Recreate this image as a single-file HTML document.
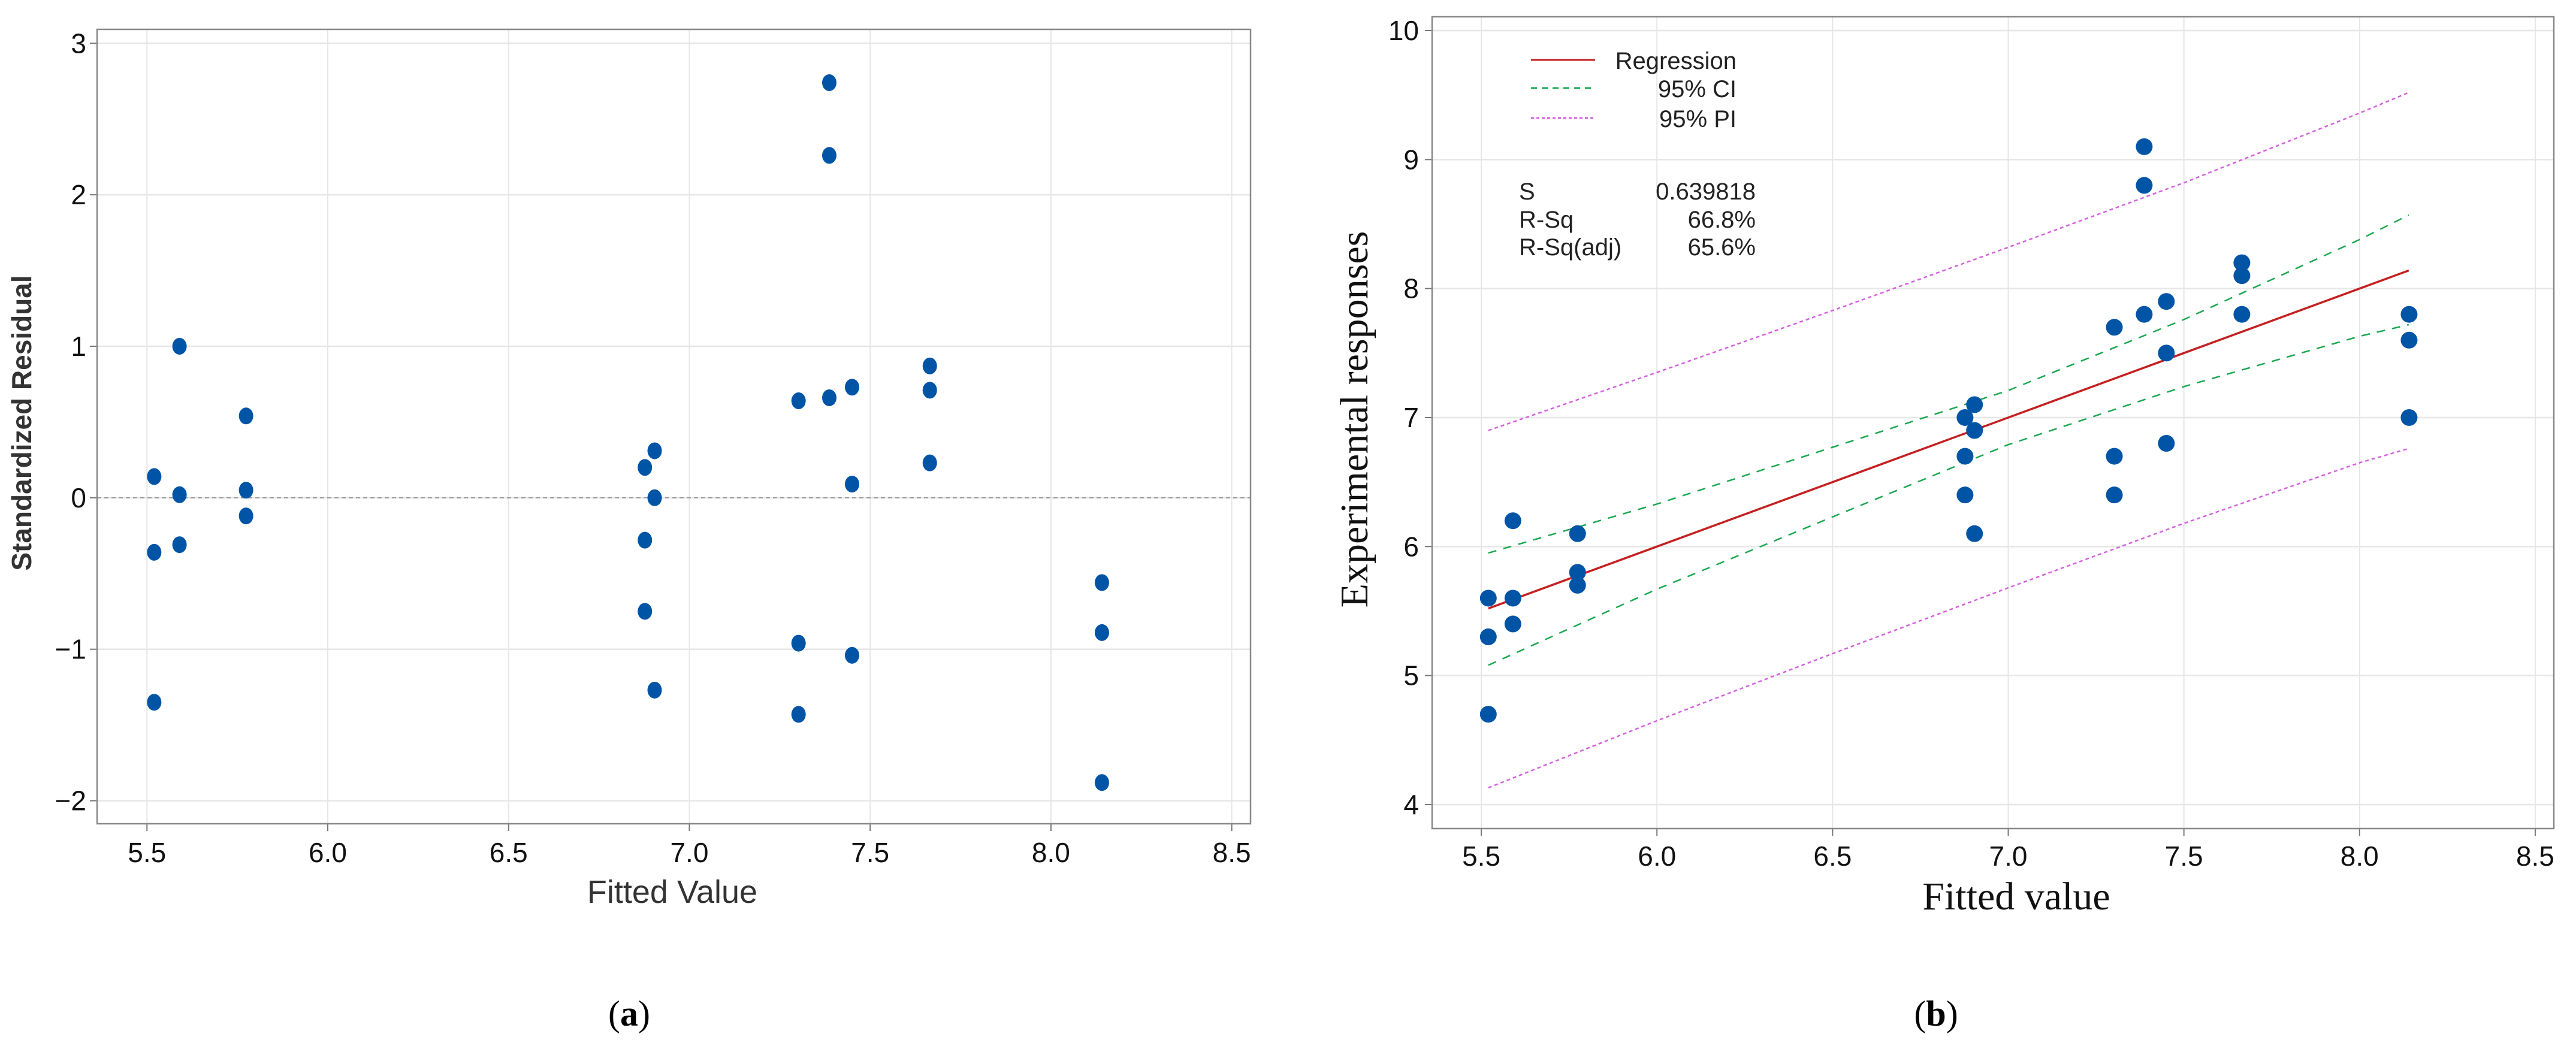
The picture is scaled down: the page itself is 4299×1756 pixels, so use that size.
<!DOCTYPE html>
<html><head><meta charset="utf-8"><style>
html,body{margin:0;padding:0;background:#fff;width:4299px;height:1756px;overflow:hidden}
svg{display:block}
</style></head><body>
<svg id="chart" width="4299" height="1756" viewBox="0 0 4299 1756" xmlns="http://www.w3.org/2000/svg"></svg>
<script>
// ---------- shared data ----------
const fittedX = [5.52, 5.59, 5.774, 6.877, 6.904, 7.302, 7.387, 7.45, 7.665, 8.141];
const residA = [[0.14,-0.36,-1.35],[1.00,0.02,-0.31],[0.54,0.05,-0.12],[0.20,-0.28,-0.75],[0.31,0.00,-1.27],[0.64,-0.96,-1.43],[2.74,2.26,0.66],[0.73,0.09,-1.04],[0.87,0.71,0.23],[-0.56,-0.89,-1.88]];
const responsesB = [[5.6,5.3,4.7],[6.2,5.6,5.4],[6.1,5.8,5.7],[7.0,6.7,6.4],[7.1,6.9,6.1],[7.7,6.7,6.4],[9.1,8.8,7.8],[7.9,7.5,6.8],[8.2,8.1,7.8],[7.8,7.6,7.0]];
const xTicks = [5.5, 6.0, 6.5, 7.0, 7.5, 8.0, 8.5];
const xTickLabels = ["5.5","6.0","6.5","7.0","7.5","8.0","8.5"];
const yTicksA = [3, 2, 1, 0, -1, -2];
const yTickLabelsA = ["3","2","1","0","\u22121","\u22122"];
const yTicksB = [10, 9, 8, 7, 6, 5, 4];
const yTickLabelsB = ["10","9","8","7","6","5","4"];
const bandX = [5.52, 6.0, 6.5, 7.0, 7.5, 8.0, 8.14];
const regY = [5.52, 6.0, 6.5, 7.0, 7.5, 8.0, 8.14];
const ciUpper = [5.95, 6.33, 6.77, 7.21, 7.76, 8.38, 8.57];
const ciLower = [5.08, 5.67, 6.23, 6.79, 7.24, 7.63, 7.72];
const piUpper = [6.90, 7.35, 7.83, 8.32, 8.82, 9.36, 9.52];
const piLower = [4.13, 4.65, 5.17, 5.68, 6.18, 6.65, 6.76];

const NS = "http://www.w3.org/2000/svg";
const svg = document.getElementById('chart');
function mk(tag, attrs, parent){const e=document.createElementNS(NS,tag);for(const k in attrs)e.setAttribute(k,attrs[k]);(parent||svg).appendChild(e);return e;}
const tickFont = '"Liberation Sans Narrow","Liberation Sans",sans-serif';

// ---------- panel A ----------
const A = {l:162, r:2087, t:49, b:1375, x0:5.362, x1:8.552, y0:-2.152, y1:3.092};
const axA = v => A.l + (v - A.x0) / (A.x1 - A.x0) * (A.r - A.l);
const ayA = v => A.b - (v - A.y0) / (A.y1 - A.y0) * (A.b - A.t);
const gA = mk('g', {});  
xTicks.forEach((v,i)=>{
  const x=axA(v);
  const gl=mk('line',{x1:x,x2:x,y1:A.t,y2:A.b,stroke:'#e6e6e6','stroke-width':2},gA);
   
  mk('line',{x1:x,x2:x,y1:A.b,y2:A.b+12,stroke:'#777','stroke-width':2},gA);
  const t=mk('text',{x:x,y:A.b+64,'text-anchor':'middle','font-family':tickFont,'font-size':46,fill:'#111'},gA);
  t.textContent=xTickLabels[i];  
});
yTicksA.forEach((v,i)=>{
  const y=ayA(v);
  const gl=mk('line',{x1:A.l,x2:A.r,y1:y,y2:y,stroke:'#e6e6e6','stroke-width':2.5},gA);
   
  mk('line',{x1:A.l-12,x2:A.l,y1:y,y2:y,stroke:'#777','stroke-width':2},gA);
  const t=mk('text',{x:A.l-18,y:y+16,'text-anchor':'end','font-family':tickFont,'font-size':46,fill:'#111'},gA);
  t.textContent=yTickLabelsA[i];  
});
const zl=mk('line',{x1:A.l,x2:A.r,y1:ayA(0),y2:ayA(0),stroke:'#999','stroke-width':2,'stroke-dasharray':'7,5'},gA);
 
const frA=mk('rect',{x:A.l,y:A.t,width:A.r-A.l,height:A.b-A.t,fill:'none',stroke:'#888','stroke-width':2.5},gA);
 
fittedX.forEach((fx,i)=>residA[i].forEach(r=>{
  const c=mk('ellipse',{cx:axA(fx),cy:ayA(r),rx:12,ry:14,fill:'#0054a6'},gA);
   
}));
let t;
t=mk('text',{x:1122,y:1507,'text-anchor':'middle','font-family':tickFont,'font-size':54,fill:'#333'});
t.textContent='Fitted Value';  
t=mk('text',{x:0,y:0,'text-anchor':'middle','font-family':'"Liberation Sans",sans-serif','font-size':46,'font-weight':'bold',fill:'#333',transform:'translate(52,706) rotate(-90)'});
t.textContent='Standardized Residual';  
t=mk('text',{x:1050,y:1712,'text-anchor':'middle','font-family':'"Liberation Serif",serif','font-size':60,fill:'#000'});
t.innerHTML='(<tspan font-weight="bold">a</tspan>)';  

// ---------- panel B ----------
const B = {l:2390, r:4262, t:28, b:1383, x0:5.36, x1:8.553, y0:3.814, y1:10.107};
const axB = v => B.l + (v - B.x0) / (B.x1 - B.x0) * (B.r - B.l);
const ayB = v => B.b - (v - B.y0) / (B.y1 - B.y0) * (B.b - B.t);
const gB = mk('g', {});  
xTicks.forEach((v,i)=>{
  const x=axB(v);
  const gl=mk('line',{x1:x,x2:x,y1:B.t,y2:B.b,stroke:'#e6e6e6','stroke-width':2},gB);
   
  mk('line',{x1:x,x2:x,y1:B.b,y2:B.b+12,stroke:'#777','stroke-width':2},gB);
  const tt=mk('text',{x:x,y:B.b+62,'text-anchor':'middle','font-family':tickFont,'font-size':46,fill:'#111'},gB);
  tt.textContent=xTickLabels[i];  
});
yTicksB.forEach((v,i)=>{
  const y=ayB(v);
  const gl=mk('line',{x1:B.l,x2:B.r,y1:y,y2:y,stroke:'#e6e6e6','stroke-width':2.5},gB);
   
  mk('line',{x1:B.l-12,x2:B.l,y1:y,y2:y,stroke:'#777','stroke-width':2},gB);
  const tt=mk('text',{x:B.l-22,y:y+16,'text-anchor':'end','font-family':tickFont,'font-size':46,fill:'#111'},gB);
  tt.textContent=yTickLabelsB[i];  
});
const frB=mk('rect',{x:B.l,y:B.t,width:B.r-B.l,height:B.b-B.t,fill:'none',stroke:'#888','stroke-width':2.5},gB);
 
function pathFrom(ys){return bandX.map((x,i)=>(i?'L':'M')+axB(x).toFixed(1)+','+ayB(ys[i]).toFixed(1)).join(' ');}
let p;
p=mk('path',{d:pathFrom(piUpper),fill:'none',stroke:'#d65ee0','stroke-width':2.5,'stroke-dasharray':'6,5'},gB);
 
p=mk('path',{d:pathFrom(piLower),fill:'none',stroke:'#d65ee0','stroke-width':2.5,'stroke-dasharray':'6,5'},gB);
 
p=mk('path',{d:pathFrom(ciUpper),fill:'none',stroke:'#1aa850','stroke-width':2.5,'stroke-dasharray':'14,12'},gB);
 
p=mk('path',{d:pathFrom(ciLower),fill:'none',stroke:'#1aa850','stroke-width':2.5,'stroke-dasharray':'14,12'},gB);
 
p=mk('path',{d:pathFrom(regY),fill:'none',stroke:'#c42020','stroke-width':3.5},gB);
 
fittedX.forEach((fx,i)=>responsesB[i].forEach(r=>{
  const c=mk('circle',{cx:axB(fx),cy:ayB(r),r:14,fill:'#0054a6'},gB);
   
}));
// legend
const lg=mk('g',{},gB);  
const legItems=[['Regression','#c42020','none',100],['95% CI','#1aa850','10,8',147],['95% PI','#d65ee0','5,4',197]];
legItems.forEach(it=>{
  const l=mk('line',{x1:2555,x2:2662,y1:it[3],y2:it[3],stroke:it[1],'stroke-width':3,'stroke-dasharray':it[2]},lg);
   
  const tx=mk('text',{x:2898,y:it[3]+15,'text-anchor':'end','font-family':tickFont,'font-size':40,fill:'#222'},lg);
  tx.textContent=it[0];  
});
const stats=[['S','0.639818',318],['R-Sq','66.8%',365],['R-Sq(adj)','65.6%',411]];
stats.forEach(s=>{
  const a=mk('text',{x:2535,y:s[2]+15,'font-family':tickFont,'font-size':40,fill:'#222'},lg);
  a.textContent=s[0];  
  const b=mk('text',{x:2930,y:s[2]+15,'text-anchor':'end','font-family':tickFont,'font-size':40,fill:'#222'},lg);
  b.textContent=s[1];  
});
t=mk('text',{x:3365,y:1518,'text-anchor':'middle','font-family':'"Liberation Serif",serif','font-size':66,fill:'#111'});
t.textContent='Fitted value';  
t=mk('text',{x:0,y:0,'text-anchor':'middle','font-family':'"Liberation Serif",serif','font-size':66,fill:'#111',transform:'translate(2282,700) rotate(-90)'});
t.textContent='Experimental responses';  
t=mk('text',{x:3231,y:1712,'text-anchor':'middle','font-family':'"Liberation Serif",serif','font-size':60,fill:'#000'});
t.innerHTML='(<tspan font-weight="bold">b</tspan>)';  
</script>
</body></html>
